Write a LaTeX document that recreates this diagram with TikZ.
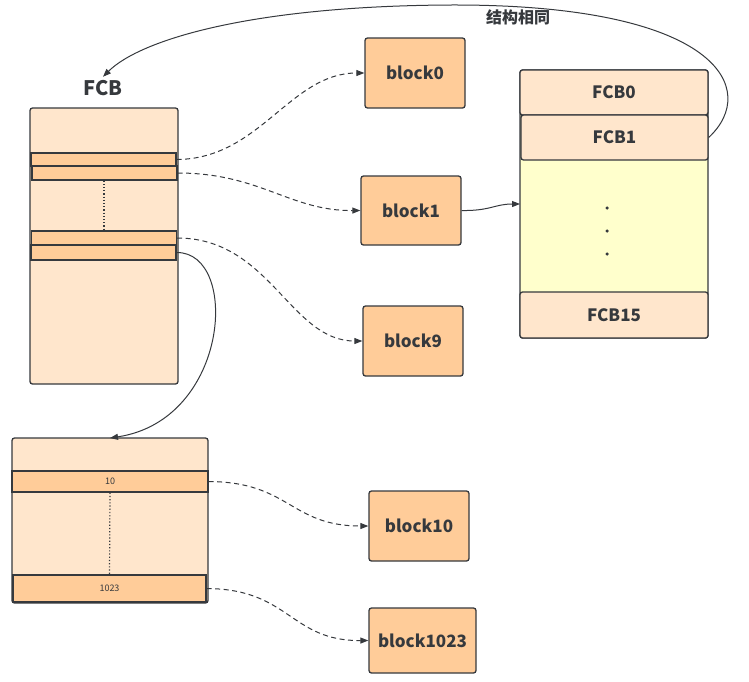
\documentclass[tikz,border=0pt]{standalone}
\usepackage{fontspec}
\setmainfont{Noto Sans CJK SC}
\usetikzlibrary{arrows.meta}
\definecolor{peach}{HTML}{FFE6CC}
\definecolor{orng}{HTML}{FFCC99}
\definecolor{yel}{HTML}{FFFFCC}
\definecolor{strk}{HTML}{36393D}
\tikzset{
  box/.style={draw=strk, line width=1.3pt, rounded corners=2.5pt},
  strip/.style={draw=strk, line width=1.3pt, fill=orng},
  blk/.style={box, fill=orng, font=\fontsize{17}{17}\selectfont\bfseries, text=strk},
  lbl/.style={font=\fontsize{17}{17}\selectfont\bfseries, text=strk},
  dconn/.style={draw=strk, line width=1pt, dash pattern=on 5pt off 3.5pt, -{Triangle[length=8pt,width=6pt]}},
  sconn/.style={draw=strk, line width=1pt, -{Triangle[length=8pt,width=6pt]}},
  dot/.style={circle, fill=strk, inner sep=0pt, minimum size=3.5pt},
}
\begin{document}
\begin{tikzpicture}[x=1pt,y=-1pt]
\useasboundingbox (0,0) rectangle (749,681);
% FCB big box
\node[lbl, font=\fontsize{20}{20}\selectfont\bfseries] (fcblabel) at (103,88) {FCB};
\draw[box, fill=peach] (30,108) rectangle (178,384);
\node[strip, minimum width=145pt, minimum height=13pt, inner sep=0pt] (s1) at (103.5,159.5) {};
\node[strip, minimum width=145pt, minimum height=14pt, inner sep=0pt] (s2) at (104.5,173) {};
\node[strip, minimum width=145pt, minimum height=14pt, inner sep=0pt] (s3) at (104,238) {};
\node[strip, minimum width=145pt, minimum height=15pt, inner sep=0pt] (s4) at (103.5,252.5) {};
\draw[strk, dotted, line width=1.2pt] (s2.south -| 104,0) -- (s3.north -| 104,0);
% bottom box
\draw[box, fill=peach] (12,438) rectangle (208,603);
\coordinate (btop) at (110,438);
\node[strip, minimum width=196pt, minimum height=21pt, inner sep=0pt, font=\fontsize{9}{9}\selectfont, text=strk] (t10) at (110,481.5) {10};
\node[strip, minimum width=193pt, minimum height=27pt, inner sep=0pt, font=\fontsize{9}{9}\selectfont, text=strk] (t1023) at (109.5,588.5) {1023};
\draw[strk, dotted, line width=1.2pt] (t10.south) -- (t1023.north);
% blocks
\node[blk, minimum width=100pt, minimum height=70pt] (b0) at (415,73) {block0};
\node[blk, minimum width=100pt, minimum height=69pt] (b1) at (411,210.5) {block1};
\node[blk, minimum width=100pt, minimum height=70pt] (b9) at (413,341) {block9};
\node[blk, minimum width=100pt, minimum height=70pt] (b10) at (419,526) {block10};
\node[blk, minimum width=107pt, minimum height=65pt] (b1023) at (422.5,640.5) {block1023};
% right box
\draw[box, fill=yel] (520,70) rectangle (708,338);
\node[box, fill=peach, minimum width=188pt, minimum height=45pt, inner sep=0pt, lbl] (f0) at (614,92.5) {FCB0};
\node[box, fill=peach, minimum width=187pt, minimum height=45pt, inner sep=0pt, lbl] (f1) at (614.5,137.5) {FCB1};
\node[box, fill=peach, minimum width=188pt, minimum height=46pt, inner sep=0pt, lbl] (f15) at (614,315) {FCB15};
\node[dot] (d1) at (607,208) {};
\node[dot] (d2) at (607,231) {};
\node[dot] (d3) at (607,254) {};
\coordinate (rleft) at (520,204);
% connectors
\draw[dconn] (s1.east) .. controls (260,159) and (290,73) .. (b0.west);
\draw[dconn] (s2.east) .. controls (260,173) and (290,211) .. (b1.west);
\draw[dconn] (s3.east) .. controls (270,238) and (290,341) .. (b9.west);
\draw[sconn] (s4.east) .. controls (240,252) and (230,420) .. (btop);
\draw[sconn] (b1.east) .. controls (490,211) and (495,204) .. (rleft);
\draw[dconn] (t10.east) .. controls (290,482) and (290,526) .. (b10.west);
\draw[dconn] (t1023.east) .. controls (290,589) and (290,641) .. (b1023.west);
\draw[sconn] (f1.east) .. controls (760,90) and (720,4) .. (450,5) .. controls (250,6) and (140,40) .. (fcblabel.north);
\node[lbl, font=\fontsize{16}{16}\selectfont\bfseries] (same) at (518,17) {结构相同};
\end{tikzpicture}
\end{document}
